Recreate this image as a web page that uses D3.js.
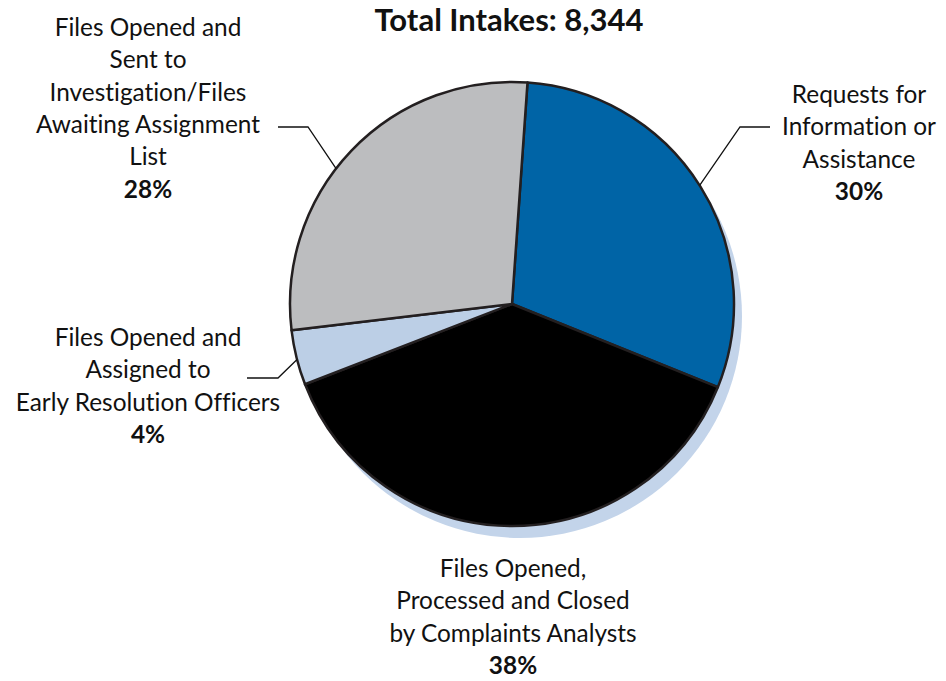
<!DOCTYPE html>
<html>
<head>
<meta charset="utf-8">
<script src="https://cdn.jsdelivr.net/npm/d3@7"></script>
<style>
html, body { margin: 0; padding: 0; background: #fff; }
svg { display: block; }
text { font-family: "Lato", "Open Sans", sans-serif; fill: #111; font-variant-ligatures: none; font-feature-settings: "liga" 0, "clig" 0; }
</style>
</head>
<body>
<svg id="chart" width="946" height="681"></svg>
<script>
// ---- data ----
const title = "Total Intakes: 8,344";
const categories = [
  "Requests for Information or Assistance",
  "Files Opened, Processed and Closed by Complaints Analysts",
  "Files Opened and Assigned to Early Resolution Officers",
  "Files Opened and Sent to Investigation/Files Awaiting Assignment List"
];
const values = [30, 38, 4, 28];
const labelLines = [
  ["Requests for", "Information or", "Assistance"],
  ["Files Opened,", "Processed and Closed", "by Complaints Analysts"],
  ["Files Opened and", "Assigned to", "Early Resolution Officers"],
  ["Files Opened and", "Sent to", "Investigation/Files", "Awaiting Assignment", "List"]
];
const colors = ["#0064a6", "#000000", "#bccfe6", "#bcbdbf"];

// ---- layout ----
const W = 946, H = 681;
const cx = 512, cy = 304, R = 222;
const startDeg = 4;
const lineH = 32.3;
const fontSize = 24.4;
// label anchor (center x, first baseline y), leader: edge angle (deg), elbow point, horizontal end
const labelLayout = [
  { x: 859, y: 103, leader: { deg: 57.7, elbow: [740, 127], end: [770, 127] } },
  { x: 513, y: 577, leader: null },
  { x: 148, y: 346, leader: { deg: 255.5, elbow: [278, 378], end: [247, 378] } },
  { x: 148, y: 36, leader: { deg: 307.6, elbow: [308, 127], end: [278, 127] } }
];

const svg = d3.select("#chart");

svg.append("text")
  .attr("x", 509).attr("y", 31)
  .attr("text-anchor", "middle")
  .style("font-weight", "bold")
  .style("font-size", "31px")
  .text(title);

const pie = d3.pie().sort(null).value(d => d)
  .startAngle(startDeg * Math.PI / 180)
  .endAngle((startDeg + 360) * Math.PI / 180);
const arcs = pie(values);
const arc = d3.arc().innerRadius(0).outerRadius(R);

// shadow
svg.append("circle")
  .attr("cx", cx + 8).attr("cy", cy + 12).attr("r", R)
  .attr("fill", "#c3d4ea");

const g = svg.append("g").attr("transform", `translate(${cx},${cy})`);
g.selectAll("path.slice").data(arcs).enter().append("path")
  .attr("class", "slice")
  .attr("d", arc)
  .attr("fill", (d, i) => colors[i])
  .attr("stroke", "#231f20")
  .attr("stroke-width", 2.5)
  .attr("stroke-linejoin", "round");

// leader lines
labelLayout.forEach((L, i) => {
  if (!L.leader) return;
  const a = L.leader.deg * Math.PI / 180;
  const px = cx + R * Math.sin(a), py = cy - R * Math.cos(a);
  svg.append("polyline")
    .attr("points", [[px, py], L.leader.elbow, L.leader.end].map(p => p.join(",")).join(" "))
    .attr("fill", "none")
    .attr("stroke", "#111")
    .attr("stroke-width", 1.3);
});

// labels
labelLayout.forEach((L, i) => {
  const t = svg.append("text")
    .attr("text-anchor", "middle")
    .style("font-size", fontSize + "px");
  labelLines[i].forEach((ln, j) => {
    t.append("tspan").attr("x", L.x).attr("y", L.y + j * lineH).text(ln);
  });
  t.append("tspan").attr("x", L.x).attr("y", L.y + labelLines[i].length * lineH)
    .style("font-weight", "bold")
    .text(values[i] + "%");
});
</script>
</body>
</html>
